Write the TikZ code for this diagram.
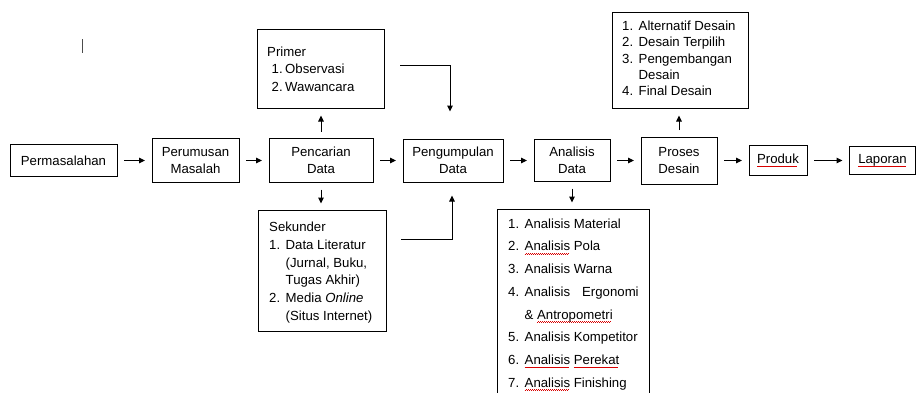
\documentclass[tikz,border=0pt]{standalone}
\usepackage{fontspec}
\setmainfont{Liberation Sans}
\usetikzlibrary{arrows.meta}
\newsavebox{\wavebox}
\newcommand{\spellwave}[1]{\sbox{\wavebox}{#1}\rlap{\hbox to \wd\wavebox{\color{red!85!black}\leaders\hbox to 2pt{\rule[-3.4pt]{1pt}{0.6pt}\rule[-2.8pt]{1pt}{0.6pt}}\hfill}}\usebox{\wavebox}}
\newcommand{\itm}[1]{\makebox[16.5pt][l]{#1}}
\newcommand{\ind}{\hspace*{16.5pt}}
\tikzset{
  box/.style={draw, line width=1pt, align=center, inner sep=0pt, font=\fontsize{13.2}{17}\selectfont},
  frame/.style={draw, line width=1pt, inner sep=0pt, anchor=north west},
  txt/.style={align=left, inner sep=0pt, anchor=north west},
  arr/.style={line width=1pt, -{Triangle[length=6pt,width=5.5pt]}, shorten <=6.5pt, shorten >=6.5pt}
}
\begin{document}
\begin{tikzpicture}[x=1pt, y=-1pt]
            \useasboundingbox (0,0) rectangle (917,392);
            \clip (0,0) rectangle (917,392);
            % main row
            \node[box, minimum width=107pt, minimum height=32pt] (masalah) at (63.5,160.5) {Permasalahan};
            \node[box, minimum width=87pt, minimum height=44pt] (rumus) at (195.5,160.5) {Perumusan\\Masalah};
            \node[box, minimum width=104pt, minimum height=44pt] (cari) at (321,160.5) {Pencarian\\Data};
            \node[box, minimum width=100pt, minimum height=43pt] (kumpul) at (453,160.5) {Pengumpulan\\Data};
            \node[box, minimum width=76pt, minimum height=42pt] (analisis) at (572,160.5) {Analisis\\Data};
            \node[box, minimum width=76pt, minimum height=47pt] (proses) at (679,160.5) {Proses\\Desain};
            \node[box, minimum width=58pt, minimum height=30pt] (produk) at (778,160.5) {\spellwave{Produk}};
            \node[box, minimum width=66pt, minimum height=28pt] (laporan) at (882.5,160.5) {\spellwave{Laporan}};
            % side boxes
            \node[frame, minimum width=127pt, minimum height=79pt] (primer) at (257,29) {};
            \node[frame, minimum width=128pt, minimum height=121pt] (sekunder) at (258,210) {};
            \node[frame, minimum width=136pt, minimum height=96pt] (desain) at (612,12) {};
            \node[frame, minimum width=152pt, minimum height=220pt] (daftar) at (497,209) {};
            % texts in the side boxes
            \node[txt, font=\fontsize{13.2}{17.5}\selectfont] (primertxt) at (267,46.5)
              {Primer\\\hspace*{4.5pt}\makebox[13.5pt][l]{1.}Observasi\\\hspace*{4.5pt}\makebox[13.5pt][l]{2.}Wawancara};
            \node[txt, font=\fontsize{13.2}{17.9}\selectfont] (sekundertxt) at (269,221.5)
              {Sekunder\\\itm{1.}Data Literatur\\\ind(Jurnal, Buku,\\\ind Tugas Akhir)\\\itm{2.}Media \textit{Online}\\\ind(Situs Internet)};
            \node[txt, font=\fontsize{13.2}{16.4}\selectfont] (desaintxt) at (622,20.5)
              {\itm{1.}Alternatif Desain\\\itm{2.}Desain Terpilih\\\itm{3.}Pengembangan\\\ind Desain\\\itm{4.}Final Desain};
            \node[txt, font=\fontsize{13.2}{22.7}\selectfont] (daftartxt) at (508,218.5)
              {\itm{1.}Analisis Material\\
               \itm{2.}\spellwave{Analisis} Pola\\
               \itm{3.}Analisis Warna\\
               \itm{4.}\makebox[114pt][s]{Analisis\hfill Ergonomi}\\
               \ind\& \spellwave{Antropometri}\\
               \itm{5.}Analisis Kompetitor\\
               \itm{6.}\spellwave{Analisis} \spellwave{Perekat}\\
               \itm{7.}\spellwave{Analisis} Finishing};
            % connectors
            \draw[arr] (masalah) -- (rumus);
            \draw[arr] (rumus) -- (cari);
            \draw[arr] (cari) -- (kumpul);
            \draw[arr] (kumpul) -- (analisis);
            \draw[arr] (analisis) -- (proses);
            \draw[arr] (proses) -- (produk);
            \draw[arr] (produk) -- (laporan);
            \draw[arr] (cari.north) -- (cari.north |- primer.south);
            \draw[arr] (cari.south) -- (cari.south |- sekunder.north);
            \draw[arr] (analisis.south) -- (analisis.south |- daftar.north);
            \draw[arr] (proses.north) -- (proses.north |- desain.south);
            \coordinate (primerout) at (400,65);
            \coordinate (sekunderout) at (401,239);
            \draw[arr, shorten <=0pt, shorten >=27pt] (primerout) -| ([xshift=-3pt]kumpul.north);
            \draw[arr, shorten <=0pt, shorten >=13pt] (sekunderout) -| ([xshift=-1pt]kumpul.south);
            % cursor mark
            \draw[black!70, line width=0.8pt] (82,39) -- (82,53);
        \end{tikzpicture}
\end{document}
